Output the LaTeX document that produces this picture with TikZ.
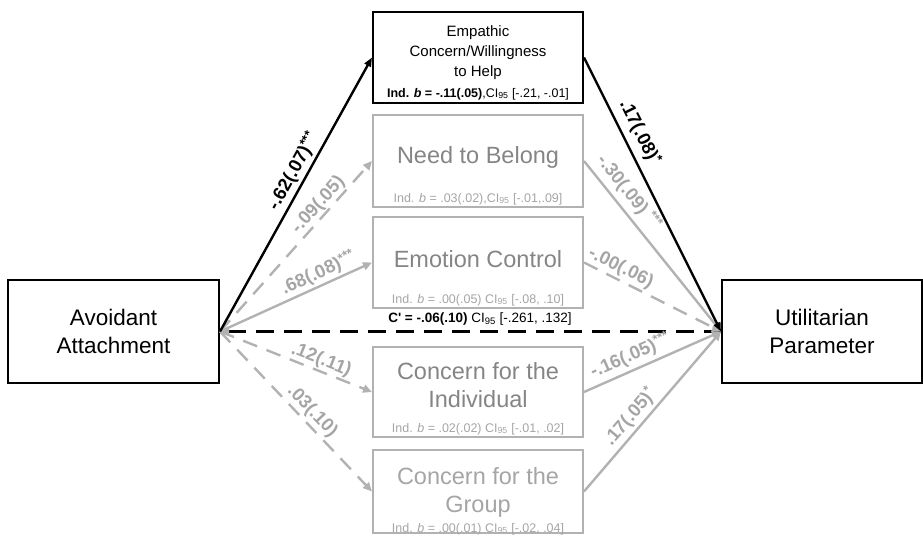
\documentclass[tikz,border=0pt]{standalone}
\usepackage{fontspec}
\setmainfont{Liberation Sans}
\usetikzlibrary{arrows.meta}
\definecolor{linegray}{RGB}{178,178,178}
\definecolor{titlegray}{RGB}{133,133,133}
\definecolor{softgray}{RGB}{165,165,165}
\newcommand{\stars}[1]{\raisebox{0.3em}{\fontsize{13}{13}\selectfont #1}}
\tikzset{
  mainbox/.style={draw=black, line width=2pt, minimum width=211pt, minimum height=103pt,
    align=center, inner sep=0pt, font=\fontsize{22.5}{28}\selectfont},
  medbox/.style={draw=linegray, line width=2pt, minimum width=210pt, inner sep=0pt},
  medtitle/.style={text=titlegray, align=center, inner sep=0pt, font=\fontsize{23.5}{28}\selectfont},
  indtxt/.style={text=softgray, inner sep=0pt, font=\fontsize{12.5}{15}\selectfont},
  blackpath/.style={line width=2.4pt, -{Triangle[length=9pt,width=7pt]}},
  graypath/.style={draw=linegray, line width=2.4pt, -{Triangle[length=9pt,width=8pt]}},
  graydash/.style={graypath, dash pattern=on 15pt off 10pt},
  coef/.style={sloped, inner sep=1pt, font=\fontsize{18.5}{18.5}\selectfont\bfseries},
  graycoef/.style={coef, text=softgray},
}
\begin{document}
\begin{tikzpicture}[x=1pt,y=-1pt]
\useasboundingbox (0,0) rectangle (923,542);
% outcome and predictor
\node[mainbox] (avoid) at (113.5,331.5) {Avoidant\\Attachment};
\node[mainbox, minimum width=200pt] (util) at (822,331.5) {Utilitarian\\Parameter};
% mediators
\node[medbox, draw=black, minimum height=91pt] (empat) at (478,57.5) {};
\node[medbox, minimum height=92pt] (belong) at (478,161) {};
\node[medbox, minimum height=91pt] (emotion) at (478,262.5) {};
\node[medbox, minimum height=90pt] (indiv) at (478,392) {};
\node[medbox, minimum height=83pt] (group) at (478,491.5) {};
\node[align=center, inner sep=0pt, font=\fontsize{15}{20}\selectfont] (empattitle) at (478,53) {Empathic\\Concern/Willingness\\to Help};
\node[indtxt, text=black, anchor=base] (empatind) at (478,97) {\textbf{Ind. \textit{b} = -.11(.05)},CI\textsubscript{95} [-.21, -.01]};
\node[medtitle, anchor=base] (belongtitle) at (478,163) {Need to Belong};
\node[indtxt, anchor=base] (belongind) at (478,202) {Ind. \textit{b} = .03(.02),CI\textsubscript{95} [-.01,.09]};
\node[medtitle, anchor=base] (emotiontitle) at (478,267) {Emotion Control};
\node[indtxt, anchor=base] (emotionind) at (478,303) {Ind. \textit{b} = .00(.05) CI\textsubscript{95} [-.08, .10]};
\node[medtitle] (indivtitle) at (478,385) {Concern for the\\Individual};
\node[indtxt, anchor=base] (indivind) at (478,432) {Ind. \textit{b} = .02(.02) CI\textsubscript{95} [-.01, .02]};
\node[medtitle, text=softgray] (grouptitle) at (478,492) {Concern for the\\Group};
\node[indtxt, anchor=base] (groupind) at (478,532) {Ind. \textit{b} = .00(.01) CI\textsubscript{95} [-.02, .04]};
\node[inner sep=0pt, anchor=base, font=\fontsize{13.5}{16}\selectfont] (ctext) at (480,322) {\textbf{C\textquotesingle{} = -.06(.10)} CI\textsubscript{95} [-.261, .132]};
% direct path
\draw[line width=2.4pt, dash pattern=on 18pt off 10pt, {Triangle[color=linegray,length=9pt,width=8pt]}-] (avoid.east) -- (util.west);
% a paths
\draw[graydash] (avoid.east) -- (belong.west) node[graycoef, pos=0.7, above=0pt] {-.09(.05)};
\draw[graypath] (avoid.east) -- (emotion.west) node[graycoef, pos=0.68, above=1pt] {.68(.08)\stars{***}};
\draw[graydash] (avoid.east) -- (indiv.west) node[graycoef, pos=0.64, above=0pt] {.12(.11)};
\draw[graydash] (avoid.east) -- (group.west) node[graycoef, pos=0.55, above=1pt] {.03(.10)};
\draw[blackpath] (avoid.east) -- (empat.west) node[coef, pos=0.56, above=2pt] {-.62(.07)\stars{***}};
% b paths
\draw[graypath] (belong.east) -- (util.west) node[graycoef, pos=0.24, above=4pt] {-.30(.09) \stars{***}};
\draw[graydash] (emotion.east) -- (util.west) node[graycoef, pos=0.23, above=1pt] {-.00(.06)};
\draw[graypath] (indiv.east) -- (util.west) node[graycoef, pos=0.38, above=3pt] {-.16(.05)\stars{***}};
\draw[graypath] (group.east) -- (util.west) node[graycoef, pos=0.41, above=2pt] {.17(.05)\stars{*}};
\draw[blackpath] (empat.east) -- (util.west) node[coef, pos=0.3, above=5pt] {.17(.08)\stars{*}};
\end{tikzpicture}
\end{document}
